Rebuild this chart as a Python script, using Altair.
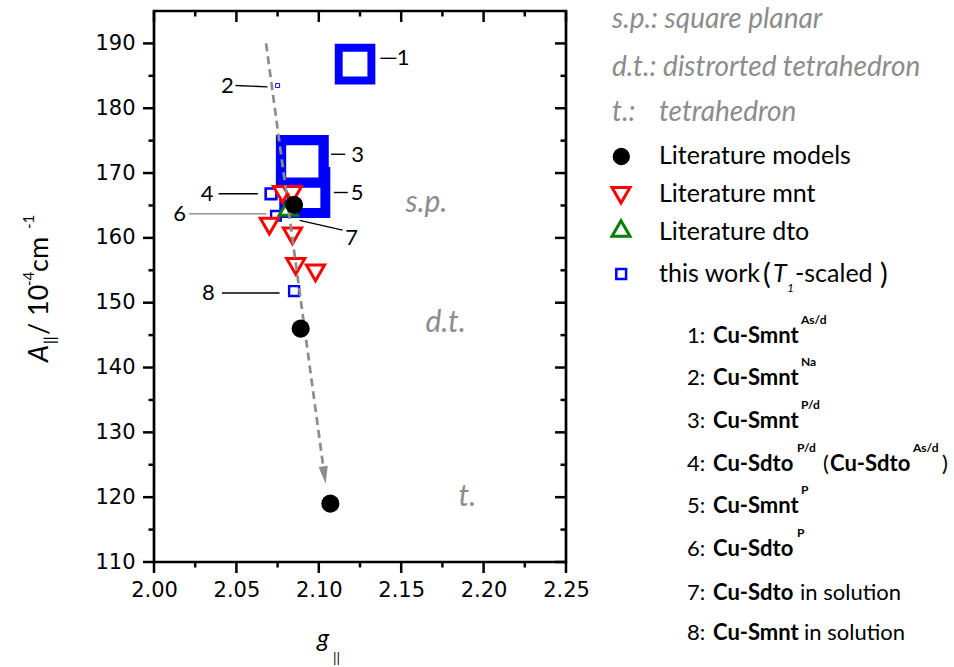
import altair as alt
import pandas as pd

FONT = "Lato"
TICK_FONT = "DejaVu Sans"
GREY = "#8c8c8c"

W, H = 412, 551          # plot area
OX, OY = 154, 11         # plot-area origin on the page

# ---------------- axes ----------------
G_DOMAIN = [2.0, 2.25]
A_DOMAIN = [110, 195]
g_major = [2.00, 2.05, 2.10, 2.15, 2.20, 2.25]
g_minor = [2.025, 2.075, 2.125, 2.175, 2.225]
a_major = [110, 120, 130, 140, 150, 160, 170, 180, 190]
a_minor = [115, 125, 135, 145, 155, 165, 175, 185]

# ---------------- data ----------------
# Literature models (filled circles)
model_g = [2.085, 2.089, 2.107]
model_a = [165.1, 146.0, 119.0]

# Literature mnt complexes
mnt_g = [2.078, 2.084, 2.070, 2.084, 2.086, 2.098]
mnt_a = [166.7, 166.7, 161.8, 160.3, 155.6, 154.6]

# Literature dto complex
dto_g = [2.0815]
dto_a = [164.7]

# This work; relative symbol scale from the T1 scaling
work_id = ["1", "2", "3", "4", "5", "6", "8"]
work_g = [2.122, 2.075, 2.090, 2.071, 2.0915, 2.074, 2.085]
work_a = [186.8, 183.5, 171.8, 166.8, 167.0, 163.4, 151.8]
work_t1 = [3.3, 0.4, 4.3, 1.08, 4.15, 0.98, 1.0]

# Trend arrow from square planar towards tetrahedral
trend_g = [2.068, 2.1034]
trend_a = [190.0, 123.4]

# Sample numbers with leader lines
lab_id = ["1", "2", "3", "4", "5", "6", "7", "8"]
lab_g = [2.1511, 2.0445, 2.1235, 2.0323, 2.1232, 2.0156, 2.1199, 2.0330]
lab_a = [187.8, 183.45, 172.85, 166.8, 166.9, 163.7, 160.0, 151.5]
lead_g1 = [2.1374, 2.0495, 2.1075, 2.0392, 2.1091, 2.0212, 2.0884, 2.0412]
lead_g2 = [2.1471, 2.0689, 2.1160, 2.0630, 2.1176, 2.0683, 2.1144, 2.0762]
lead_a1 = [187.7, 183.5, 172.9, 166.8, 167.0, 163.7, 162.7, 151.5]
lead_a2 = [187.7, 183.3, 172.9, 166.8, 167.0, 163.7, 161.2, 151.5]

# Geometry regions
region_text = ["s.p.", "d.t.", "t."]
region_g = [2.1653, 2.1769, 2.1902]
region_a = [165.4, 146.8, 120.0]

# ---------------- encodings ----------------
xs = alt.Scale(domain=G_DOMAIN, nice=False, zero=False)
ys = alt.Scale(domain=A_DOMAIN, nice=False, zero=False)
x_axis = alt.Axis(values=g_major, format=".2f", ticks=False, domain=False, grid=False,
                  title=None, labelFont=TICK_FONT, labelFontSize=21, labelPadding=17,
                  labelColor="black", labelFlush=False, labelOverlap=False)
y_axis = alt.Axis(values=a_major, format="d", ticks=False, domain=False, grid=False,
                  title=None, labelFont=TICK_FONT, labelFontSize=21, labelPadding=19,
                  labelColor="black", labelFlush=False, labelOverlap=False)


def X(f):
    return alt.X(f"{f}:Q", scale=xs, axis=x_axis)


def Y(f):
    return alt.Y(f"{f}:Q", scale=ys, axis=y_axis)


layers = []

# ---- tick marks on all four sides (outward left/bottom, inward top/right) ----
for vals, size in ((a_major, 11), (a_minor, 5.5)):
    d = alt.Chart(pd.DataFrame({"v": vals}))
    layers.append(d.mark_rule(color="black", strokeWidth=2.5).encode(
        y=Y("v"), x=alt.value(-size), x2=alt.value(0)))
    layers.append(d.mark_rule(color="black", strokeWidth=2.5).encode(
        y=Y("v"), x=alt.value(W - size), x2=alt.value(W)))
for vals, size in ((g_major, 11), (g_minor, 5.5)):
    d = alt.Chart(pd.DataFrame({"v": vals}))
    layers.append(d.mark_rule(color="black", strokeWidth=2.5).encode(
        x=X("v"), y=alt.value(H), y2=alt.value(H + size)))
    layers.append(d.mark_rule(color="black", strokeWidth=2.5).encode(
        x=X("v"), y=alt.value(0), y2=alt.value(size)))

# ---- this work: hollow blue squares, size from T1 scale ----
work = pd.DataFrame({"id": work_id, "g": work_g, "a": work_a, "t1": work_t1})
outer = 12.3 * work["t1"]
work["sw"] = outer * 0.195
work["size"] = (outer - work["sw"]) ** 2
work["rank"] = range(len(work), 0, -1)
layers.append(alt.Chart(work).mark_point(
    shape="square", fill="white", stroke="#0000ff", filled=False, opacity=1,
    fillOpacity=1, strokeOpacity=1).encode(
    x=X("g"), y=Y("a"),
    size=alt.Size("size:Q", scale=None, legend=None),
    strokeWidth=alt.StrokeWidth("sw:Q", scale=None, legend=None),
    order=alt.Order("rank:Q")))

# ---- literature mnt / dto ----
layers.append(alt.Chart(pd.DataFrame({"g": mnt_g, "a": mnt_a})).mark_point(
    shape="triangle-down", fill="white", stroke="#ff0000", strokeWidth=3,
    size=330, opacity=1, fillOpacity=1).encode(x=X("g"), y=Y("a")))
layers.append(alt.Chart(pd.DataFrame({"g": dto_g, "a": dto_a})).mark_point(
    shape="triangle-up", fill="white", stroke="#008000", strokeWidth=3,
    size=330, opacity=1, fillOpacity=1).encode(x=X("g"), y=Y("a")))

# ---- trend arrow ----
trend = pd.DataFrame({"g": trend_g, "a": trend_a, "o": [0, 1]})
layers.append(alt.Chart(trend).mark_line(
    color=GREY, strokeWidth=2.7, strokeDash=[8, 5]).encode(
    x=X("g"), y=Y("a"), order="o:Q"))
layers.append(alt.Chart(trend.tail(1)).mark_point(
    shape="M-0.53,-1L0.53,-1L0,1Z", filled=True, color=GREY, size=306,
    angle=352, opacity=1).encode(x=X("g"), y=Y("a")))

# ---- literature models ----
layers.append(alt.Chart(pd.DataFrame({"g": model_g, "a": model_a})).mark_point(
    shape="circle", filled=True, color="black", size=330, opacity=1).encode(
    x=X("g"), y=Y("a")))

# ---- sample labels ----
leads = pd.DataFrame({"id": lab_id, "g1": lead_g1, "g2": lead_g2,
                      "a1": lead_a1, "a2": lead_a2})
layers.append(alt.Chart(leads).mark_rule(strokeWidth=1.4).encode(
    x=X("g1"), x2=alt.X2("g2"), y=Y("a1"), y2=alt.Y2("a2"),
    color=alt.condition("datum.id == '6'", alt.value("#808080"), alt.value("black"))))
layers.append(alt.Chart(pd.DataFrame({"id": lab_id, "g": lab_g, "a": lab_a})).mark_text(
    font=FONT, fontSize=22, align="center", baseline="middle", color="black").encode(
    x=X("g"), y=Y("a"), text="id:N"))

layers.append(alt.Chart(pd.DataFrame({"t": region_text, "g": region_g, "a": region_a})).mark_text(
    font=FONT, fontSize=30, fontStyle="italic", align="center", baseline="middle",
    color=GREY).encode(x=X("g"), y=Y("a"), text="t:N"))

# ---------------- text outside the plot ----------------
one = alt.Chart(pd.DataFrame({"k": [0]}))


def piece(s, x, y, size=25, weight="normal", style="normal", color="black",
          align="left", baseline="alphabetic", angle=0):
    kw = dict(text=s, font=FONT, fontSize=size, fontWeight=weight, fontStyle=style,
              color=color, align=align, baseline=baseline)
    if angle:
        kw["angle"] = angle
    return one.mark_text(**kw).encode(x=alt.value(x - OX), y=alt.value(y - OY))


def symbol(shape, x, y, size, **kw):
    return one.mark_point(shape=shape, size=size, opacity=1, **kw).encode(
        x=alt.value(x - OX), y=alt.value(y - OY))


# axis titles
layers += [
    piece("A", 48, 362, size=27, style="italic", angle=270),
    piece("||", 55, 344, size=15, angle=270),
    piece(" / 10", 48, 335, size=27, angle=270),
    piece("-4", 34, 286, size=15, angle=270),
    piece(" cm", 48, 272, size=27, angle=270),
    piece("-1", 34, 229, size=15, angle=270),
    piece("g", 323, 647, size=25, style="italic", align="center"),
    piece("||", 333, 663, size=14),
]

# geometry notes
layers += [
    piece("s.p.: square planar", 612, 28, size=28, style="italic", color=GREY),
    piece("d.t.: distrorted tetrahedron", 612, 76, size=28, style="italic", color=GREY),
    piece("t.:", 612, 121, size=28, style="italic", color=GREY),
    piece("tetrahedron", 659, 121, size=28, style="italic", color=GREY),
]

# symbol legend
layers += [
    symbol("circle", 621.3, 156.5, 300, filled=True, color="black"),
    symbol("triangle-down", 621, 195.3, 324, fill="white", stroke="#ff0000", strokeWidth=3),
    symbol("triangle-up", 621, 228.5, 324, fill="white", stroke="#008000", strokeWidth=3),
    symbol("square", 621.2, 274, 96, fill="white", stroke="#0000ff", strokeWidth=2.5),
    piece("Literature models", 659, 164),
    piece("Literature mnt", 659, 201.5),
    piece("Literature dto", 659, 239.5),
    piece("this work", 659, 282),
    piece("(", 763, 284, size=29),
    piece("T", 773, 282, style="italic"),
    piece("1", 787, 292, size=12, style="italic"),
    piece("-scaled", 795, 282),
    piece(")", 880, 284, size=29),
]

# numbered compound list
LIST = 22
rows = [
    ("1", "Cu-Smnt", "As/d", None),
    ("2", "Cu-Smnt", "Na", None),
    ("3", "Cu-Smnt", "P/d", None),
    ("4", "Cu-Sdto", "P/d", "paren"),
    ("5", "Cu-Smnt", "P", None),
    ("6", "Cu-Sdto", "P", None),
    ("7", "Cu-Sdto", None, "in solution"),
    ("8", "Cu-Smnt", None, "in solution"),
]
row_base = [343, 385, 428, 471, 513, 556, 600, 640]
for (num, name, sup, tail), yb in zip(rows, row_base):
    name_end = 795 if name == "Cu-Sdto" else 799
    layers.append(piece(num + ":", 687, yb, size=LIST))
    layers.append(piece(name, 713, yb, size=LIST, weight="bold"))
    if sup:
        layers.append(piece(sup, name_end + 2, yb - 19, size=12, weight="bold"))
    if tail == "paren":
        layers += [
            piece("(", 823, yb, size=LIST),
            piece("Cu-Sdto", 830, yb, size=LIST, weight="bold"),
            piece("As/d", 913, yb - 19, size=12, weight="bold"),
            piece(")", 942, yb, size=LIST),
        ]
    elif tail:
        layers.append(piece(tail, name_end + 5, yb, size=LIST))

chart = alt.layer(*layers).properties(
    width=W, height=H,
    padding={"left": OX, "top": OY, "right": 954 - OX - W, "bottom": 667 - OY - H},
    autosize=alt.AutoSizeParams(type="none"),
    background="white",
).configure_view(stroke="black", strokeWidth=2.7)

chart.save("out.html", embed_options={"renderer": "svg", "actions": False})
